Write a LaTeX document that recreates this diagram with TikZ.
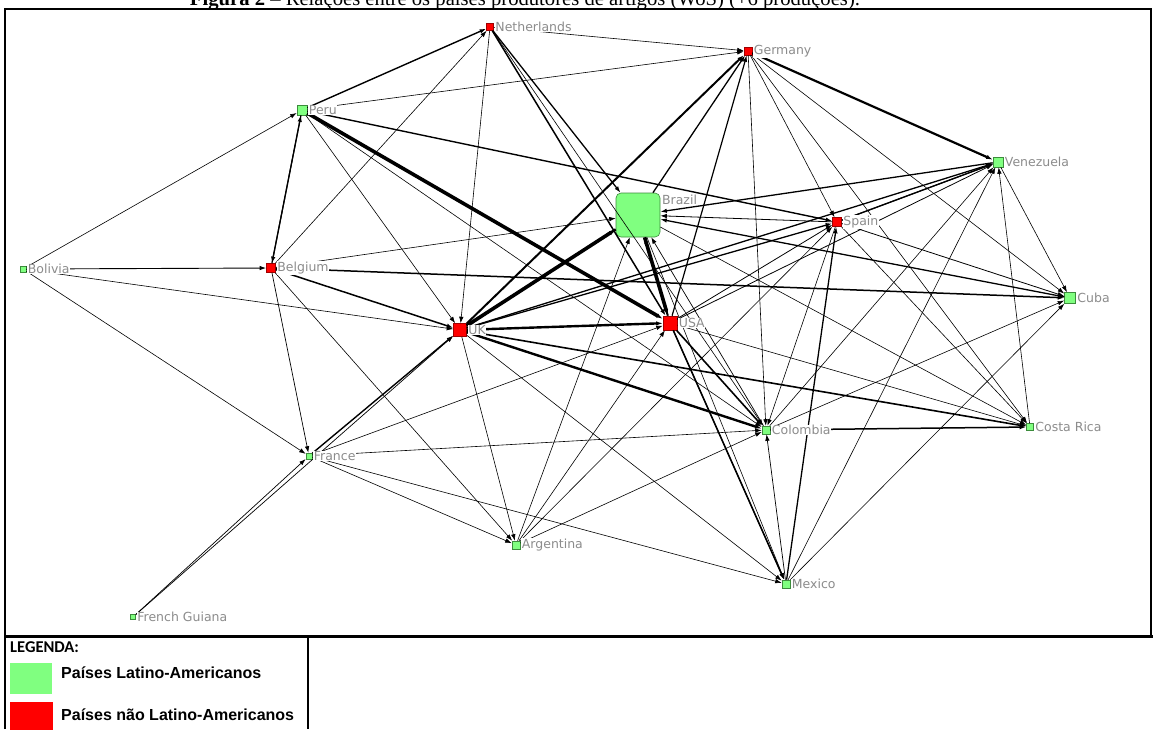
\documentclass[tikz,border=0pt]{standalone}
\usepackage{fontspec}
\usepackage{graphicx}
\setmainfont{Liberation Serif}
\newfontfamily\lblfont{DejaVu Sans}
\newfontfamily\legfont{Liberation Sans}
\newfontfamily\legheadfont{Carlito}
\usetikzlibrary{arrows.meta}
\definecolor{latfill}{HTML}{80FF80}
\definecolor{latedge}{HTML}{3C8C3C}
\definecolor{nlfill}{HTML}{FF0000}
\definecolor{nledge}{HTML}{A00000}
\definecolor{lblgray}{HTML}{8C8C8C}
\begin{document}
\begin{tikzpicture}[x=1pt,y=-1pt,
  lat/.style={rectangle, draw=latedge, fill=latfill, line width=0.6pt, minimum size=#1, inner sep=0pt},
  nla/.style={rectangle, draw=nledge, fill=nlfill, line width=0.6pt, minimum size=#1, inner sep=0pt},
  lbl/.style={font=\lblfont\fontsize{12.5}{14}\selectfont, text=lblgray, fill=white, inner sep=0.6pt, anchor=west},
  link/.style={draw=black, line width=#1, -{Latex[length=6.5pt,width=4.5pt]}},
  frameline/.style={draw=black, line width=2.4pt},
  legtext/.style={font=\legfont\bfseries\fontsize{16}{18}\selectfont, anchor=base west, inner sep=0pt}
]
\useasboundingbox (0,0) rectangle (1153,729);

% caption (partly above the page)
\node[anchor=base, inner sep=0pt] (caption) at (525,5)
  {\resizebox{670pt}{!}{\textbf{Figura 2} -- Relações entre os países produtores de artigos (WoS) (+6 produções).}};

% frame and legend separators
\draw[frameline] (5,729) -- (5,9) -- (1151,9) -- (1151,636);
\draw[draw=black, line width=3pt] (5,636) -- (1153,636);
\draw[draw=black, line width=2pt] (307.5,636) -- (307.5,729);

% countries
\node[lat=6pt]  (bol) at (23,269) {};
\node[lat=10pt] (per) at (302,110) {};
\node[nla=9pt]  (bel) at (271,268) {};
\node[nla=7pt]  (ned) at (490,27) {};
\node[nla=8pt]  (ger) at (748,51) {};
\node[lat=10pt] (ven) at (998,162) {};
\node[lat=44pt, rounded corners=5pt] (bra) at (638,215) {};
\node[nla=9pt]  (spa) at (837,222) {};
\node[lat=11pt] (cub) at (1070,298) {};
\node[nla=13pt] (uk)  at (460,330) {};
\node[nla=14pt] (usa) at (670,323) {};
\node[lat=8pt]  (col) at (766,430) {};
\node[lat=7pt]  (cri) at (1030,427) {};
\node[lat=6pt]  (fra) at (309,456) {};
\node[lat=8pt]  (arg) at (516,545) {};
\node[lat=8pt]  (mex) at (786,584) {};
\node[lat=5pt]  (fgu) at (133,617) {};

% co-authorship ties (source/target/width)
\foreach \s/\t/\w in {
  bol/per/0.6pt, bol/bel/0.9pt, bol/uk/0.6pt, bol/fra/0.6pt,
  per/ned/1.4pt, per/ger/0.6pt, per/usa/3.6pt, per/spa/1.4pt, per/uk/0.6pt, per/col/0.6pt, per/bel/1.2pt,
  bel/per/1.2pt, bel/ned/0.6pt, bel/bra/0.6pt, bel/cub/1.5pt, bel/uk/1.5pt, bel/fra/0.7pt, bel/arg/0.6pt,
  ned/ger/0.6pt, ned/uk/0.6pt, ned/bra/1.3pt, ned/usa/1.5pt, ned/col/0.6pt,
  ger/ven/2.2pt, ger/cub/0.6pt, ger/cri/0.6pt, ger/col/0.6pt, ger/spa/0.6pt,
  uk/ger/2pt, bra/ger/1.3pt, usa/ger/1.2pt,
  uk/bra/3.6pt, bra/uk/2.4pt, bra/usa/3.6pt, usa/bra/2pt,
  spa/bra/0.8pt, ven/bra/1.3pt, cub/bra/1.3pt, col/bra/0.7pt, arg/bra/0.6pt,
  uk/spa/1.3pt, uk/ven/1.3pt, uk/col/2.4pt, uk/cri/1.6pt, uk/mex/0.6pt, uk/arg/0.6pt, uk/usa/2.4pt,
  fra/uk/1.4pt, fgu/fra/0.7pt, fgu/uk/0.7pt, fra/usa/0.6pt, fra/col/0.6pt, fra/arg/0.6pt, fra/mex/0.6pt,
  arg/usa/0.6pt, arg/col/0.6pt, arg/spa/0.6pt,
  col/cri/1.5pt, mex/col/0.7pt, col/ven/0.6pt, col/cub/0.6pt,
  usa/col/1.6pt, usa/mex/1.6pt, usa/cri/0.6pt, usa/ven/0.8pt, usa/spa/0.8pt,
  spa/ven/1.3pt, ven/spa/1pt, spa/cub/0.8pt, spa/cri/0.6pt, spa/col/0.6pt,
  ven/cub/0.6pt, cri/ven/0.6pt, mex/ven/0.6pt, mex/cub/0.6pt, mex/spa/1.3pt,
  bra/cri/0.6pt, bra/mex/0.6pt}
  \draw[link=\w] (\s) -- (\t);

% country names, set over the ties
\node[lbl] (bol-l) at ([xshift=0.8pt]bol.east) {Bolivia};
\node[lbl] (per-l) at ([xshift=0.8pt]per.east) {Peru};
\node[lbl] (bel-l) at ([xshift=0.8pt]bel.east) {Belgium};
\node[lbl] (ned-l) at ([xshift=0.8pt]ned.east) {Netherlands};
\node[lbl] (ger-l) at ([xshift=0.8pt]ger.east) {Germany};
\node[lbl] (ven-l) at ([xshift=0.8pt]ven.east) {Venezuela};
\node[lbl, anchor=north west] (bra-l) at ([xshift=1pt,yshift=-1pt]bra.north east) {Brazil};
\node[lbl] (spa-l) at ([xshift=0.8pt]spa.east) {Spain};
\node[lbl] (cub-l) at ([xshift=0.8pt]cub.east) {Cuba};
\node[lbl] (uk-l)  at ([xshift=0.8pt]uk.east)  {UK};
\node[lbl] (usa-l) at ([xshift=0.8pt]usa.east) {USA};
\node[lbl] (col-l) at ([xshift=0.8pt]col.east) {Colombia};
\node[lbl] (cri-l) at ([xshift=0.8pt]cri.east) {Costa Rica};
\node[lbl] (fra-l) at ([xshift=0.8pt]fra.east) {France};
\node[lbl] (arg-l) at ([xshift=0.8pt]arg.east) {Argentina};
\node[lbl] (mex-l) at ([xshift=0.8pt]mex.east) {Mexico};
\node[lbl] (fgu-l) at ([xshift=0.8pt]fgu.east) {French Guiana};

% legend
\node[font=\legheadfont\bfseries\fontsize{16.5}{18}\selectfont, anchor=base west, inner sep=0pt] (leghead) at (10,652) {LEGENDA:};
\node[rectangle, fill=latfill, minimum width=42pt, minimum height=31pt, inner sep=0pt, anchor=north west] (legla) at (10,663) {};
\node[legtext] (leglatxt) at (61,678) {Países Latino-Americanos};
\node[rectangle, fill=nlfill, minimum width=43pt, minimum height=28pt, inner sep=0pt, anchor=north west] (legnl) at (10,702) {};
\node[legtext] (legnltxt) at (61,720) {Países não Latino-Americanos};
\end{tikzpicture}
\end{document}
